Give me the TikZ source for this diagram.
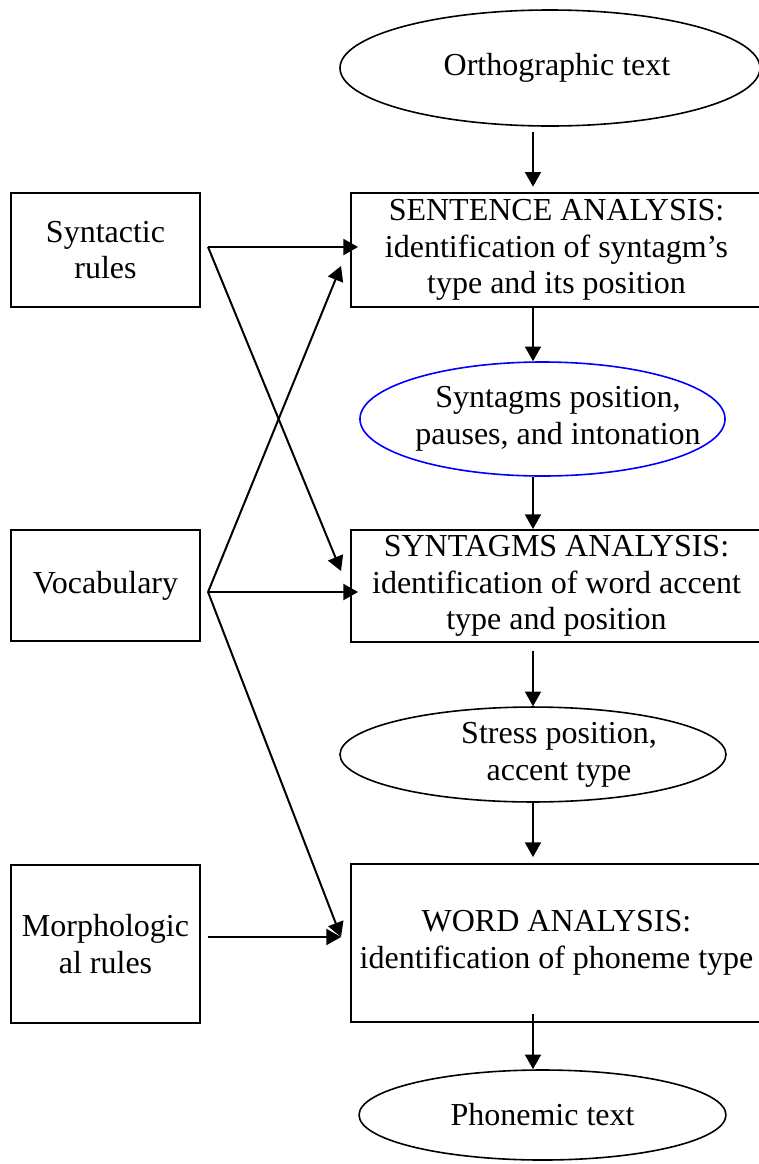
\documentclass[tikz,border=0pt]{standalone}
\usepackage{fontspec}
\setmainfont{Liberation Serif}
\usetikzlibrary{arrows.meta,shapes.geometric,calc}

\begin{document}
\begin{tikzpicture}[x=0.375pt,y=-0.375pt,line width=0.75pt,font=\fontsize{12}{13.8}\selectfont]
    %
    % `source' is used for the rule sets and the vocabulary on the left.
    % `stage' is used for the analysis steps.
    % `oval' is used for what is passed from one step to the next.
    \tikzstyle{source} = [draw,align=center,inner sep=0pt,minimum width=70.9pt]
    \tikzstyle{stage} = [draw,align=center,inner sep=0pt,minimum width=154.1pt]
    \tikzstyle{oval} = [draw,shape=ellipse,inner sep=0pt,line width=0.6pt]
    \tikzstyle{flow} = [-{Triangle[length=5.5pt,width=6pt]}]
    \useasboundingbox (0,0) rectangle (759,1164);
    %
    % Sources
    \node[source,minimum height=42.75pt] (syn) at (105.5,250) {Syntactic\\rules};
    \node[source,minimum height=41.6pt] (voc) at (105.5,585.5) {Vocabulary};
    \node[source,minimum height=59.25pt] (mor) at (105.5,944) {Morphologic\\al rules};
    %
    % Analysis steps
    \node[stage,minimum height=42.75pt] (sent) at (556.5,250) {SENTENCE ANALYSIS:\\identification of syntagm's\\type and its position};
    \node[stage,minimum height=42pt] (synt) at (556.5,586) {SYNTAGMS ANALYSIS:\\identification of word accent\\type and position};
    \node[stage,minimum height=59.25pt] (word) at (556.5,943) {WORD ANALYSIS:\\identification of phoneme type};
    %
    % Data between the steps
    \node[oval,minimum width=157.5pt,minimum height=43.5pt] (ortho) at (550,68) {};
    \node (orthotext) at (557,68) {Orthographic text};
    \node[oval,draw=blue,minimum width=136.9pt,minimum height=42.75pt] (synpos) at (542.5,419) {};
    \node[align=center] (synpostext) at (558,419) {Syntagms position,\\pauses, and intonation};
    \node[oval,minimum width=144.75pt,minimum height=35.6pt] (stress) at (533,754.5) {};
    \node[align=center] (stresstext) at (559,754.5) {Stress position,\\accent type};
    \node[oval,minimum width=137.6pt,minimum height=33.75pt] (phon) at (542.5,1115) {};
    \node (phontext) at (542.5,1115) {Phonemic text};
    %
    % Main flow
    \coordinate (axis) at (533,0);
    \draw[flow,shorten <=2pt,shorten >=2pt] (ortho.south -| axis) -- (sent.north -| axis);
    \draw[flow] (sent.south -| axis) -- (synpos.north -| axis);
    \draw[flow] (synpos.south -| axis) -- (synt.north -| axis);
    \draw[flow,shorten <=3pt] (synt.south -| axis) -- (stress.north -| axis);
    \draw[flow,shorten >=2.25pt] (stress.south -| axis) -- (word.north -| axis);
    \draw[flow,shorten <=-3.4pt] (word.south -| axis) -- (phon.north -| axis);
    %
    % Inputs from the left
    \coordinate (synout) at ($(syn.east)+(7,-3)$);
    \coordinate (vocout) at ($(voc.east)+(7,6.5)$);
    \coordinate (morout) at ($(mor.east)+(7,-7)$);
    \draw[flow] (synout) -- ($(synout -| sent.west)+(8,0)$);
    \draw[flow] (synout) -- ($(synt.north west)+(-9,42)$);
    \draw[flow] (vocout) -- ($(sent.south west)+(-9,-42)$);
    \draw[flow] (vocout) -- ($(vocout -| synt.west)+(8,0)$);
    \draw[flow] (vocout) -- ($(morout -| word.west)+(-9,0)$);
    \draw[flow] (morout) -- ($(morout -| word.west)+(-9,0)$);
    %
\end{tikzpicture}
\end{document}
